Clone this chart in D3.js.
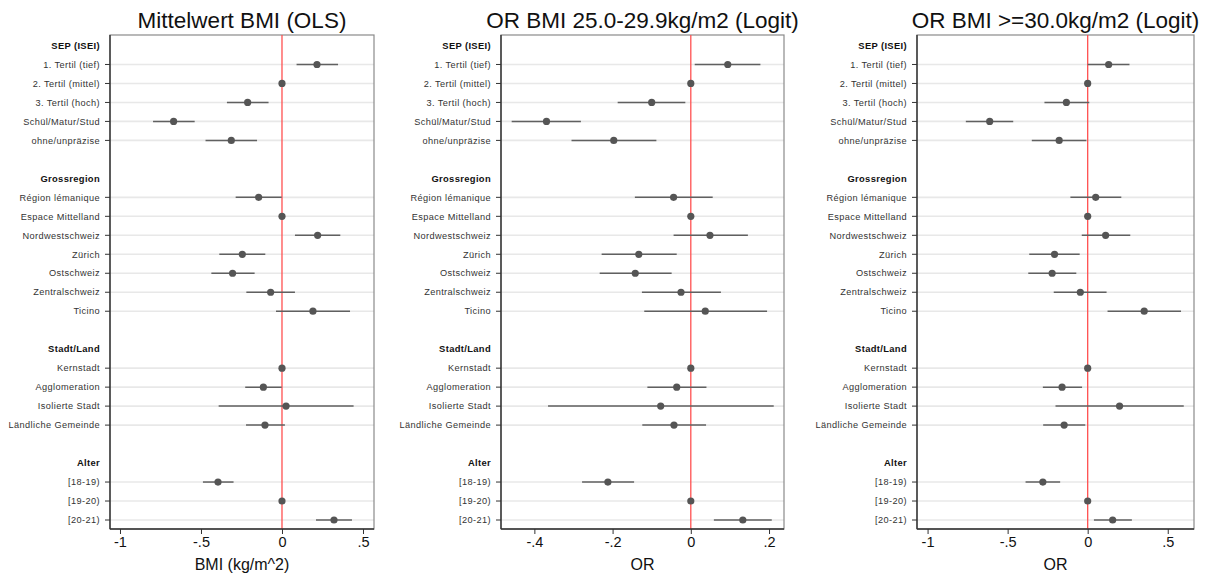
<!DOCTYPE html>
<html>
<head>
<meta charset="utf-8">
<script src="https://cdn.jsdelivr.net/npm/d3@7"></script>
<style>
  html, body { margin: 0; padding: 0; background: #fff; }
  svg { display: block; font-family: "Liberation Sans", Arial, Helvetica, sans-serif; }
</style>
</head>
<body>
<svg id="chart" width="1219" height="576"></svg>
<script>
// ---------- data ----------
const groupNames = ["SEP (ISEI)", "Grossregion", "Stadt/Land", "Alter"];
const groupItems = [
  ["1. Tertil (tief)", "2. Tertil (mittel)", "3. Tertil (hoch)", "Schül/Matur/Stud", "ohne/unpräzise"],
  ["Région lémanique", "Espace Mittelland", "Nordwestschweiz", "Zürich", "Ostschweiz", "Zentralschweiz", "Ticino"],
  ["Kernstadt", "Agglomeration", "Isolierte Stadt", "Ländliche Gemeinde"],
  ["[18-19)", "[19-20)", "[20-21)"]
];

const panelTitles = ["Mittelwert BMI (OLS)", "OR BMI 25.0-29.9kg/m2 (Logit)", "OR BMI >=30.0kg/m2 (Logit)"];
const axisTitles = ["BMI (kg/m^2)", "OR", "OR"];
const tickValues1 = [-1, -0.5, 0, 0.5];
const tickLabels1 = ["-1", "-.5", "0", ".5"];
const tickValues2 = [-0.4, -0.2, 0, 0.2];
const tickLabels2 = ["-.4", "-.2", "0", ".2"];
const tickValues3 = [-1, -0.5, 0, 0.5];
const tickLabels3 = ["-1", "-.5", "0", ".5"];

// Panel 1: mean BMI (OLS)
const bmiEst = [0.216, 0, -0.212, -0.669, -0.313, -0.144, 0, 0.22, -0.245, -0.305, -0.07, 0.191, 0, -0.115, 0.025, -0.105, -0.395, 0, 0.321];
const bmiLo  = [0.09, 0, -0.34, -0.796, -0.472, -0.286, 0, 0.08, -0.387, -0.436, -0.22, -0.037, 0, -0.227, -0.391, -0.222, -0.488, 0, 0.21];
const bmiHi  = [0.346, 0, -0.083, -0.539, -0.154, -0.002, 0, 0.36, -0.103, -0.169, 0.08, 0.42, 0, -0.002, 0.442, 0.018, -0.299, 0, 0.432];
// Panel 2: OR BMI 25.0-29.9
const owEst = [0.0945, 0, -0.100, -0.369, -0.197, -0.044, 0, 0.049, -0.133, -0.142, -0.025, 0.037, 0, -0.036, -0.077, -0.043, -0.212, 0, 0.133];
const owLo  = [0.010, 0, -0.187, -0.458, -0.305, -0.143, 0, -0.044, -0.228, -0.233, -0.125, -0.119, 0, -0.111, -0.365, -0.124, -0.278, 0, 0.059];
const owHi  = [0.178, 0, -0.014, -0.281, -0.088, 0.056, 0, 0.146, -0.036, -0.049, 0.077, 0.195, 0, 0.040, 0.212, 0.039, -0.145, 0, 0.207];
// Panel 3: OR BMI >= 30.0
const obEst = [0.131, 0, -0.133, -0.612, -0.178, 0.050, 0, 0.112, -0.207, -0.222, -0.046, 0.353, 0, -0.160, 0.199, -0.147, -0.280, 0, 0.156];
const obLo  = [0.0, 0, -0.270, -0.761, -0.349, -0.108, 0, -0.037, -0.365, -0.371, -0.212, 0.124, 0, -0.280, -0.201, -0.278, -0.388, 0, 0.039];
const obHi  = [0.261, 0, 0.010, -0.465, -0.008, 0.210, 0, 0.266, -0.050, -0.071, 0.118, 0.583, 0, -0.035, 0.600, -0.015, -0.172, 0, 0.276];

// ---------- layout rows ----------
const rows = [];
let itemIdx = 0;
groupNames.forEach((g, gi) => {
  if (gi > 0) rows.push({ type: "blank" });
  rows.push({ type: "header", label: g });
  groupItems[gi].forEach(lbl => { rows.push({ type: "item", label: lbl, idx: itemIdx++ }); });
});
rows.forEach((r, i) => r.pos = i);

const panels = [
  { title: panelTitles[0], axis: axisTitles[0], est: bmiEst, lo: bmiLo, hi: bmiHi, ticks: tickValues1, tickLabels: tickLabels1,
    domain: [-1.0617, 0.568], range: [110, 374] },
  { title: panelTitles[1], axis: axisTitles[1], est: owEst, lo: owLo, hi: owHi, ticks: tickValues2, tickLabels: tickLabels2,
    domain: [-0.4853, 0.2383], range: [501, 784] },
  { title: panelTitles[2], axis: axisTitles[2], est: obEst, lo: obLo, hi: obHi, ticks: tickValues3, tickLabels: tickLabels3,
    domain: [-1.066, 0.664], range: [917, 1194] }
];

const plotTop = 35, plotBottom = 529;
const y = d3.scaleLinear().domain([0, rows.length - 1]).range([45.5, 520]);

const svg = d3.select("#chart");

panels.forEach(p => {
  const x = d3.scaleLinear().domain(p.domain).range(p.range);
  const g = svg.append("g");
  const left = p.range[0], right = p.range[1];

  // gridlines on item rows
  g.selectAll("line.grid").data(rows.filter(r => r.type === "item")).join("line")
    .attr("class", "grid")
    .attr("x1", left).attr("x2", right)
    .attr("y1", d => y(d.pos)).attr("y2", d => y(d.pos))
    .attr("stroke", "#e8e8e8").attr("stroke-width", 1.6);

  // frame
  g.append("rect")
    .attr("x", left).attr("y", plotTop)
    .attr("width", right - left).attr("height", plotBottom - plotTop)
    .attr("fill", "none").attr("stroke", "#8a8a8a").attr("stroke-width", 1.2);

  // reference line at 0
  g.append("line")
    .attr("x1", x(0)).attr("x2", x(0))
    .attr("y1", plotTop).attr("y2", plotBottom)
    .attr("stroke", "#ff5050").attr("stroke-width", 1.3);

  const items = rows.filter(r => r.type === "item");
  // CIs
  g.selectAll("line.ci").data(items).join("line")
    .attr("class", "ci")
    .attr("x1", d => x(p.lo[d.idx])).attr("x2", d => x(p.hi[d.idx]))
    .attr("y1", d => y(d.pos)).attr("y2", d => y(d.pos))
    .attr("stroke", "#606060").attr("stroke-width", 1.5);
  // points
  g.selectAll("circle.pt").data(items).join("circle")
    .attr("class", "pt")
    .attr("cx", d => x(p.est[d.idx])).attr("cy", d => y(d.pos))
    .attr("r", 3.6).attr("fill", "#555555");

  // y axis (left)
  const yAxisG = g.append("g").attr("transform", `translate(${left},0)`);
  yAxisG.append("line").attr("x1", 0).attr("x2", 0).attr("y1", plotTop).attr("y2", plotBottom)
    .attr("stroke", "#333").attr("stroke-width", 1.4);
  yAxisG.selectAll("line.tk").data(items).join("line")
    .attr("class", "tk")
    .attr("x1", -5).attr("x2", 0)
    .attr("y1", d => y(d.pos)).attr("y2", d => y(d.pos))
    .attr("stroke", "#333").attr("stroke-width", 1);
  yAxisG.selectAll("text.lbl").data(rows.filter(r => r.type !== "blank")).join("text")
    .attr("class", "lbl")
    .attr("x", -10).attr("y", d => y(d.pos))
    .attr("dy", "0.35em")
    .attr("text-anchor", "end")
    .attr("font-size", d => d.type === "header" ? 9.4 : 9.2)
    .attr("letter-spacing", d => d.type === "header" ? 0.35 : 0.4)
    .attr("font-weight", d => d.type === "header" ? "bold" : "normal")
    .attr("fill", d => d.type === "header" ? "#111" : "#333")
    .text(d => d.label);

  // x axis
  const xAxis = d3.axisBottom(x).tickValues(p.ticks)
    .tickFormat((d, i) => p.tickLabels[i]).tickSize(5).tickSizeOuter(0).tickPadding(3);
  const xg = g.append("g").attr("transform", `translate(0,${plotBottom})`).call(xAxis);
  xg.select(".domain").attr("d", `M${left},0H${right}`).attr("stroke", "#333").attr("stroke-width", 1.4);
  xg.selectAll(".tick line").attr("stroke", "#333");
  xg.selectAll(".tick text").attr("font-size", 14.5).attr("fill", "#111")
    .attr("font-family", "Liberation Sans, Arial, sans-serif");

  // titles
  g.append("text")
    .attr("x", (left + right) / 2).attr("y", 28)
    .attr("text-anchor", "middle").attr("font-size", 22.5).attr("fill", "#111")
    .text(p.title);
  g.append("text")
    .attr("x", (left + right) / 2).attr("y", 570)
    .attr("text-anchor", "middle").attr("font-size", 16).attr("fill", "#111")
    .text(p.axis);
});
</script>
</body>
</html>
